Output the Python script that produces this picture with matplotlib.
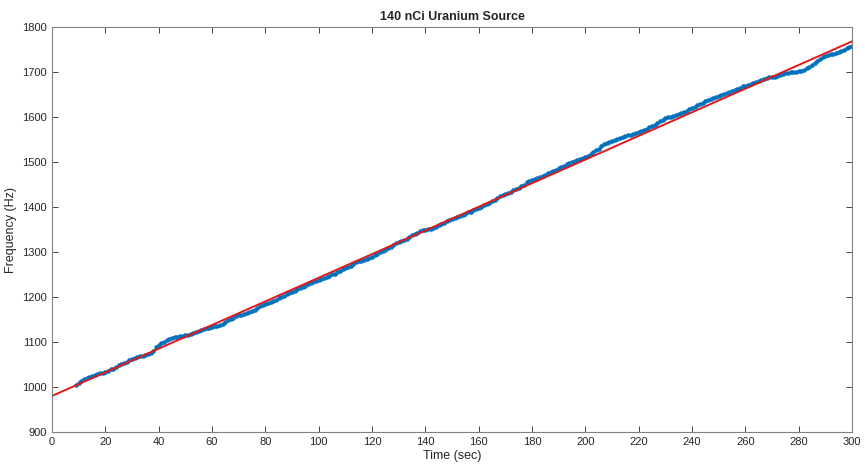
import numpy as np
from matplotlib import pyplot as plt

# measured frequency, one reading per second starting at t = 9 s
t_start = 9
freq = [
    1004, 1008, 1013, 1017, 1020, 1022, 1025, 1026, 1028, 1030, 1031,
    1034, 1036, 1039, 1041, 1044, 1048, 1051, 1054, 1056, 1059,
    1063, 1065, 1066, 1068, 1069, 1071, 1073, 1075, 1079, 1088,
    1093, 1097, 1101, 1104, 1107, 1109, 1111, 1112, 1113, 1114,
    1115, 1116, 1118, 1120, 1122, 1124, 1126, 1128, 1130, 1132,
    1134, 1135, 1136, 1138, 1141, 1145, 1148, 1151, 1154, 1157,
    1159, 1161, 1163, 1165, 1167, 1169, 1171, 1176, 1180, 1183,
    1185, 1187, 1189, 1191, 1194, 1197, 1200, 1203, 1206, 1209,
    1211, 1214, 1217, 1220, 1222, 1225, 1228, 1231, 1233, 1235,
    1237, 1239, 1242, 1244, 1247, 1250, 1252, 1255, 1258, 1262,
    1264, 1267, 1270, 1274, 1277, 1279, 1281, 1283, 1285, 1287,
    1290, 1293, 1296, 1299, 1302, 1305, 1308, 1312, 1316, 1320,
    1323, 1325, 1327, 1330, 1333, 1337, 1340, 1343, 1347, 1349,
    1350, 1351, 1352, 1353, 1356, 1359, 1362, 1365, 1368, 1371,
    1374, 1376, 1378, 1380, 1382, 1385, 1388, 1390, 1393, 1396,
    1398, 1401, 1404, 1407, 1410, 1413, 1416, 1420, 1424, 1427,
    1429, 1431, 1434, 1437, 1440, 1443, 1446, 1450, 1455, 1458,
    1461, 1463, 1465, 1467, 1469, 1472, 1475, 1478, 1480, 1483,
    1486, 1489, 1492, 1495, 1497, 1499, 1502, 1505, 1507, 1509,
    1511, 1514, 1518, 1522, 1526, 1530, 1535, 1540, 1543, 1545,
    1547, 1549, 1551, 1553, 1555, 1557, 1559, 1561, 1563, 1565,
    1567, 1569, 1571, 1574, 1577, 1580, 1583, 1587, 1591, 1594,
    1597, 1599, 1601, 1603, 1605, 1607, 1609, 1611, 1614, 1617,
    1620, 1623, 1626, 1629, 1632, 1635, 1638, 1641, 1643, 1645,
    1647, 1649, 1651, 1653, 1655, 1657, 1659, 1662, 1665, 1668,
    1670, 1672, 1674, 1676, 1678, 1680, 1682, 1684, 1686, 1688,
    1689, 1690, 1691, 1693, 1695, 1697, 1698, 1699, 1700, 1701,
    1702, 1703, 1705, 1708, 1712, 1716, 1720, 1725, 1729, 1733,
    1735, 1737, 1739, 1741, 1743, 1745, 1747, 1750, 1753, 1756,
    1758,
]
time = np.arange(t_start, t_start + len(freq))

# linear fit shown in red
fit_slope = 2.627
fit_intercept = 980.0

plt.rcParams['font.family'] = ['Liberation Sans', 'DejaVu Sans']

fig = plt.figure(figsize=(8.65, 4.66), dpi=100)
ax = fig.add_axes([0.060, 0.073, 0.925, 0.869])

ax.plot(time, freq, 'o', color='#0072BD', markersize=3.3, markeredgewidth=0)
t_fit = np.array([0, 300])
ax.plot(t_fit, fit_intercept + fit_slope * t_fit, color='#E0191B', linewidth=1.4)

ax.set_xlim(0, 300)
ax.set_ylim(900, 1800)
ax.set_xticks(np.arange(0, 301, 20))
ax.set_yticks(np.arange(900, 1801, 100))
ax.tick_params(direction='in', top=True, right=True, labelsize=8,
               colors='#262626', length=4, width=0.6)
for s in ax.spines.values():
    s.set_color('#808080')
    s.set_linewidth(0.8)

ax.set_xlabel('Time (sec)', fontsize=9, color='#262626', labelpad=2)
ax.set_ylabel('Frequency (Hz)', fontsize=9, color='#262626', labelpad=4)
ax.set_title('140 nCi Uranium Source', fontsize=9, fontweight='bold',
             color='#262626', pad=5)

fig.savefig('out.png', dpi=100)
